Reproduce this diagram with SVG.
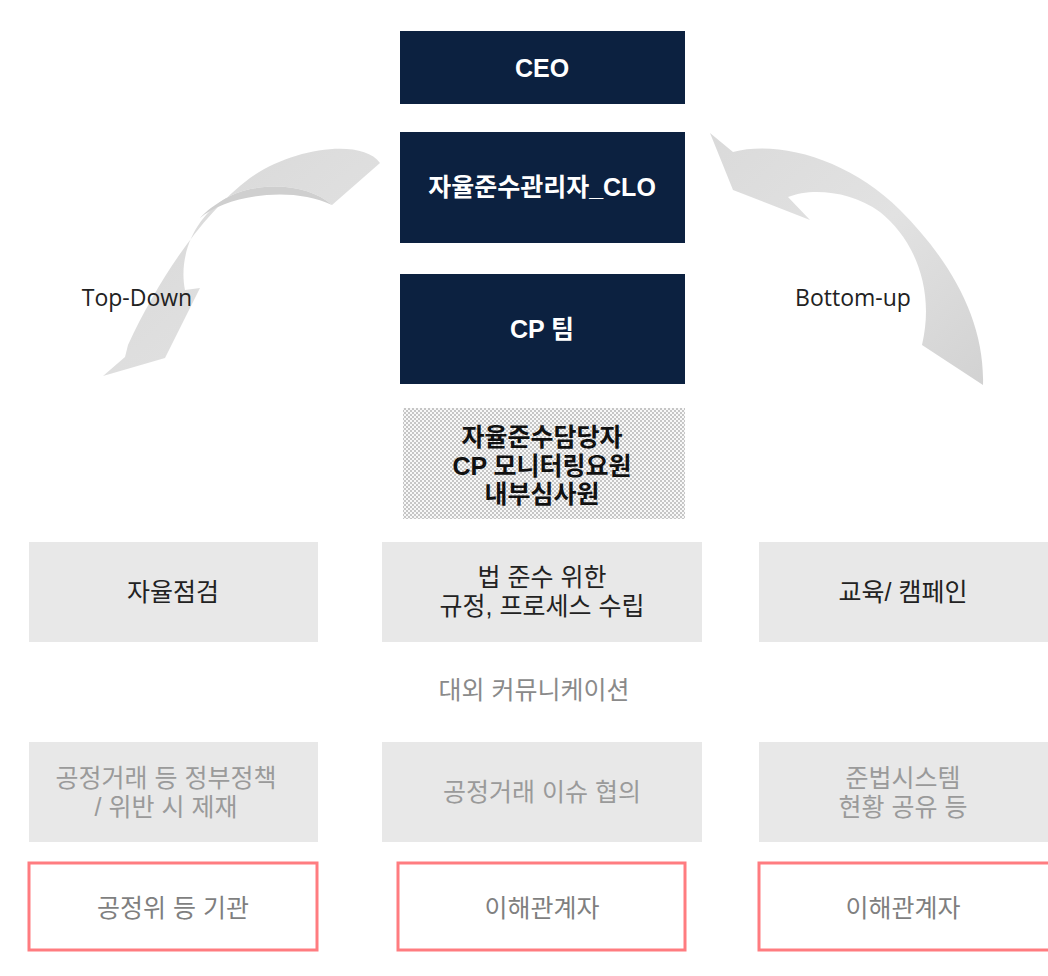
<svg xmlns="http://www.w3.org/2000/svg" width="1048" height="976" viewBox="0 0 1048 976">
<defs>
<style>
.dark{fill:#0c2140}
.grey{fill:#e8e8e8}
.red{fill:#ffffff;stroke:#ff7c80;stroke-width:3}
text{font-family:"Liberation Sans","Noto Sans CJK KR",sans-serif;text-anchor:middle;dominant-baseline:central}
.wt{fill:#ffffff;font-size:25px;font-weight:bold}
.bt{fill:#111111;font-size:25px;font-weight:bold}
.t1{fill:#222222;font-size:25px}
.t2{fill:#9a9a9a;font-size:25px}
.t3{fill:#7f7f7f;font-size:25px}
.lab{fill:#222222;font-size:23px;font-family:"Open Sans","Noto Sans",sans-serif}
</style>
<pattern id="dots" width="4" height="4" patternUnits="userSpaceOnUse">
<rect width="4" height="4" fill="#f8f8f8"/>
<rect x="0" y="0" width="2" height="2" fill="#c6c6c6"/>
<rect x="2" y="2" width="2" height="2" fill="#c6c6c6"/>
</pattern>
<linearGradient id="ga" x1="0" y1="0" x2="1" y2="1">
<stop offset="0" stop-color="#d6d6d6"/>
<stop offset="0.5" stop-color="#dedede"/>
<stop offset="1" stop-color="#e4e4e4"/>
</linearGradient>
<linearGradient id="gb" x1="0" y1="0" x2="1" y2="1">
<stop offset="0" stop-color="#dadada"/>
<stop offset="0.5" stop-color="#e2e2e2"/>
<stop offset="1" stop-color="#d2d2d2"/>
</linearGradient>
</defs>
<rect width="1048" height="976" fill="#ffffff"/>

<g id="connectors">
<path id="arrow-topdown" d="M380,163 C362,138 292,148 250,178 C202,214 158,280 128,345 L125,357 L103,376 L165,358 L200,288 L185,290 C178,255 195,215 230,196 C265,180 310,185 332,205 Z" fill="url(#ga)"/>
<path d="M332,205 C310,185 265,180 230,196 C215,204 205,212 200,218 C225,196 290,185 332,205 Z" fill="#cfcfcf"/>
<path id="arrow-bottomup" d="M710,133 L733,152 C780,140 850,160 900,210 C950,260 985,320 983,385 L922,345 C935,290 915,240 880,212 C850,190 810,188 788,197 L810,220 L733,190 Z" fill="url(#gb)"/>
</g>

<text class="lab" x="137" y="297">Top-Down</text>
<text class="lab" x="853" y="297">Bottom-up</text>

<g id="ceo"><rect class="dark" x="400" y="31" width="285" height="73"/><text class="wt" x="542" y="68">CEO</text></g>
<g id="clo"><rect class="dark" x="400" y="132" width="285" height="111"/><text class="wt" x="542" y="187">자율준수관리자_CLO</text></g>
<g id="cpteam"><rect class="dark" x="400" y="274" width="285" height="110"/><text class="wt" x="542" y="329">CP 팀</text></g>
<g id="staff"><rect x="403" y="408" width="282" height="111" fill="url(#dots)"/>
<text class="bt" x="542" y="437">자율준수담당자</text>
<text class="bt" x="542" y="466">CP 모니터링요원</text>
<text class="bt" x="542" y="494">내부심사원</text></g>

<g id="selfcheck"><rect class="grey" x="29" y="542" width="289" height="100"/><text class="t1" x="173" y="592">자율점검</text></g>
<g id="rules"><rect class="grey" x="382" y="542" width="320" height="100"/><text class="t1" x="542" y="577">법 준수 위한</text><text class="t1" x="542" y="606">규정, 프로세스 수립</text></g>
<g id="education"><rect class="grey" x="759" y="542" width="289" height="100"/><text class="t1" x="903" y="592">교육/ 캠페인</text></g>

<text class="t3" x="534" y="690" style="fill:#8a8a8a">대외 커뮤니케이션</text>

<g id="policy"><rect class="grey" x="29" y="742" width="289" height="100"/><text class="t2" x="166" y="778">공정거래 등 정부정책</text><text class="t2" x="166" y="807">/ 위반 시 제재</text></g>
<g id="issue"><rect class="grey" x="382" y="742" width="320" height="100"/><text class="t2" x="542" y="792">공정거래 이슈 협의</text></g>
<g id="share"><rect class="grey" x="759" y="742" width="289" height="100"/><text class="t2" x="903" y="778">준법시스템</text><text class="t2" x="903" y="807">현황 공유 등</text></g>

<g id="ftc"><rect class="red" x="29" y="863" width="288" height="87"/><text class="t3" x="173" y="908">공정위 등 기관</text></g>
<g id="stake1"><rect class="red" x="398" y="863" width="287" height="87"/><text class="t3" x="542" y="908">이해관계자</text></g>
<g id="stake2"><rect class="red" x="759" y="863" width="292" height="87"/><text class="t3" x="903" y="908">이해관계자</text></g>
</svg>
